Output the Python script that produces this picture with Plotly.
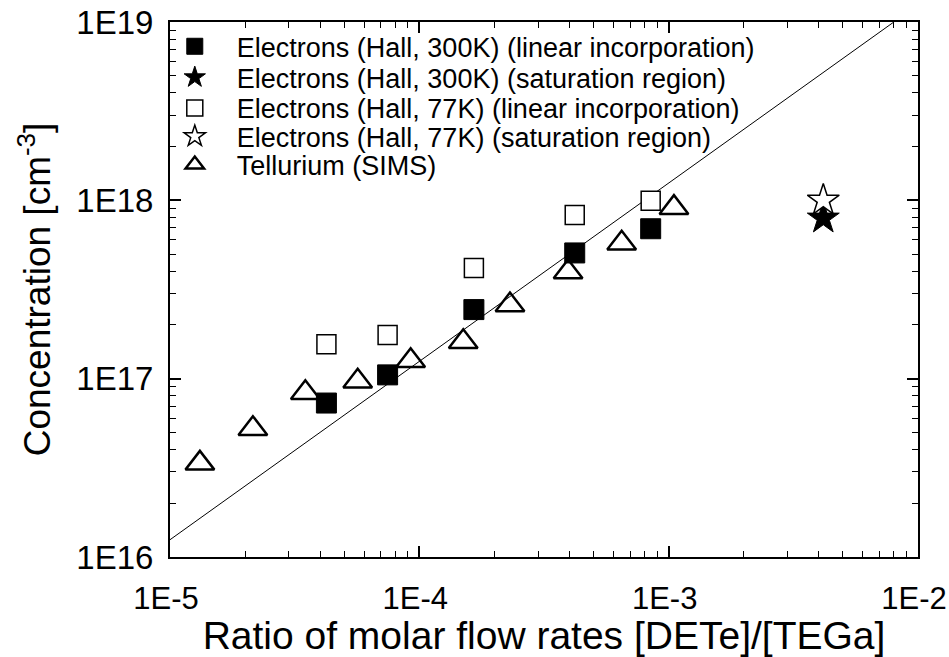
import numpy as np
import plotly.graph_objects as go

# Electrons, Hall measurement at 300 K (linear incorporation region)
hall300_x = [4.24e-5, 7.46e-5, 1.655e-4, 4.2e-4, 8.47e-4]
hall300_y = [7.3e16, 1.05e17, 2.44e17, 5.07e17, 6.93e17]

# Electrons, Hall measurement at 300 K (saturation region)
hall300_sat_x = [4.17e-3]
hall300_sat_y = [7.93e17]

# Electrons, Hall measurement at 77 K (linear incorporation region)
hall77_x = [4.24e-5, 7.46e-5, 1.655e-4, 4.2e-4, 8.47e-4]
hall77_y = [1.56e17, 1.76e17, 4.17e17, 8.27e17, 9.95e17]

# Electrons, Hall measurement at 77 K (saturation region)
hall77_sat_x = [4.17e-3]
hall77_sat_y = [1.0e18]

# Tellurium concentration from SIMS
sims_x = [1.318e-5, 2.15e-5, 3.49e-5, 5.66e-5, 9.23e-5, 1.50e-4, 2.31e-4, 3.95e-4, 6.48e-4, 1.05e-3]
sims_y = [3.35e16, 5.24e16, 8.34e16, 9.66e16, 1.26e17, 1.61e17, 2.59e17, 3.96e17, 5.74e17, 9.1e17]

# Linear incorporation guide line: N = k * ratio
fit_k = 1.25e21
fit_x = np.array([1e-5, 1e-2])
fit_y = fit_k * fit_x

tick_x_vals = [1e-5, 1e-4, 1e-3, 1e-2]
tick_x_text = ["1E-5", "1E-4", "1E-3", "1E-2"]
tick_y_vals = [1e16, 1e17, 1e18, 1e19]
tick_y_text = ["1E16", "1E17", "1E18", "1E19"]

FONT = "Arial, Liberation Sans, sans-serif"

fig = go.Figure()

fig.add_trace(go.Scatter(
    x=fit_x, y=fit_y, mode="lines",
    line=dict(color="black", width=1), showlegend=False, hoverinfo="skip",
))

series = [
    ("Electrons (Hall, 300K) (linear incorporation)", hall300_x, hall300_y,
     dict(symbol="square", size=20, color="black", line=dict(color="black", width=1))),
    ("Electrons (Hall, 300K) (saturation region)", hall300_sat_x, hall300_sat_y,
     dict(symbol="star", size=24, color="black", line=dict(color="black", width=1))),
    ("Electrons (Hall, 77K) (linear incorporation)", hall77_x, hall77_y,
     dict(symbol="square", size=19, color="white", line=dict(color="black", width=1.5))),
    ("Electrons (Hall, 77K) (saturation region)", hall77_sat_x, hall77_sat_y,
     dict(symbol="star", size=24, color="white", line=dict(color="black", width=1.5))),
    ("Tellurium (SIMS)", sims_x, sims_y,
     dict(symbol="triangle-up", size=25, color="rgba(255,255,255,0)", line=dict(color="black", width=2.5))),
]

# one legend box per entry so the row spacing can be set independently of font size
legend_rows_y = [0.9538, 0.8958, 0.8386, 0.7855, 0.7327]
legend_ids = ["legend", "legend2", "legend3", "legend4", "legend5"]

for (name, xs, ys, mk), lid in zip(series, legend_ids):
    fig.add_trace(go.Scatter(x=xs, y=ys, mode="markers", name=name, marker=mk, legend=lid))

axis_common = dict(
    type="log",
    showgrid=False, zeroline=False,
    showline=True, linecolor="black", linewidth=2, mirror="ticks",
    ticks="inside", ticklen=11, tickwidth=1.5, tickcolor="black",
    minor=dict(ticks="inside", ticklen=6, tickwidth=1.2, tickcolor="black", dtick="D1", showgrid=False),
    ticklabeloverflow="allow",
    automargin=False,
)

fig.update_xaxes(
    **axis_common,
    range=[-5, -1.99999],
    tickvals=tick_x_vals, ticktext=tick_x_text,
    tickfont=dict(family=FONT, size=31, color="black"),
    ticklabelstandoff=13,
    ticklabelshift=-4,
    title=dict(text="Ratio of molar flow rates [DETe]/[TEGa]",
               font=dict(family=FONT, size=39, color="black"), standoff=4),
)
fig.update_yaxes(
    **axis_common,
    range=[16, 19],
    tickvals=tick_y_vals, ticktext=tick_y_text,
    tickfont=dict(family=FONT, size=33, color="black"),
    ticklabelstandoff=8,
    title=dict(text="Concentration [cm<sup>-3</sup>]",
               font=dict(family=FONT, size=37, color="black"), standoff=14),
)

legend_style = dict(
    x=-0.023, xanchor="left", yanchor="middle",
    bgcolor="rgba(0,0,0,0)", borderwidth=0,
    font=dict(family=FONT, size=27, color="black"),
    itemwidth=74,
)

fig.update_layout(
    width=949, height=657,
    margin=dict(l=170, r=31, t=22, b=100, autoexpand=False),
    paper_bgcolor="white", plot_bgcolor="white",
    font=dict(family=FONT, color="black"),
    showlegend=True,
)
for lid, ly in zip(legend_ids, legend_rows_y):
    fig.update_layout({lid: dict(legend_style, y=ly)})

fig.write_html("out.html")
